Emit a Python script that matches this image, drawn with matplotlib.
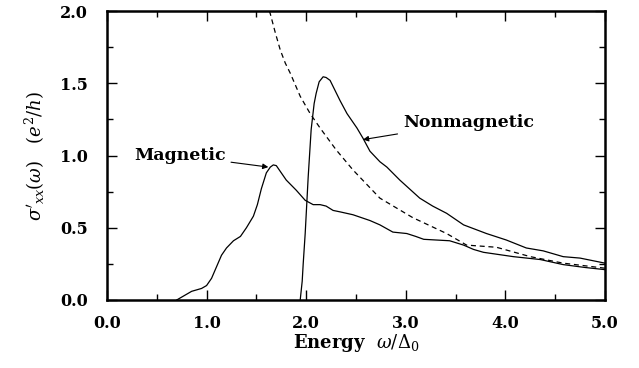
import numpy as np
import matplotlib.pyplot as plt
from matplotlib.ticker import MultipleLocator

plt.rcParams['font.family'] = ['DejaVu Serif']
plt.rcParams['mathtext.fontset'] = 'dejavuserif'

# Magnetic case (lower solid curve)
mag_x = [0.70, 0.75, 0.80, 0.85, 0.90, 0.95, 1.00, 1.05, 1.10, 1.15, 1.20, 1.27,
         1.34, 1.40, 1.47, 1.51, 1.55, 1.60, 1.64, 1.67, 1.70, 1.74, 1.80, 1.90,
         1.99, 2.07, 2.14, 2.20, 2.27, 2.34, 2.47, 2.64, 2.74, 2.87, 3.01, 3.10,
         3.18, 3.44, 3.58, 3.68, 3.78, 4.08, 4.35, 4.58, 4.80, 5.00]
mag_y = [0.00, 0.02, 0.04, 0.06, 0.07, 0.08, 0.10, 0.15, 0.23, 0.31, 0.36, 0.41,
         0.44, 0.50, 0.58, 0.66, 0.77, 0.88, 0.92, 0.935, 0.93, 0.89, 0.83, 0.76,
         0.69, 0.66, 0.66, 0.65, 0.62, 0.61, 0.59, 0.55, 0.52, 0.47, 0.46, 0.44,
         0.42, 0.41, 0.38, 0.35, 0.33, 0.30, 0.28, 0.245, 0.225, 0.21]

# Nonmagnetic case (upper solid curve)
nonmag_x = [1.94, 1.96, 1.97, 1.99, 2.02, 2.05, 2.08, 2.10, 2.13, 2.17, 2.20, 2.24,
            2.29, 2.34, 2.41, 2.51, 2.57, 2.64, 2.74, 2.81, 2.94, 3.14, 3.27, 3.41,
            3.58, 3.81, 4.01, 4.21, 4.38, 4.58, 4.75, 5.00]
nonmag_y = [0.00, 0.13, 0.25, 0.46, 0.85, 1.18, 1.36, 1.43, 1.51, 1.545, 1.54, 1.52,
            1.45, 1.38, 1.29, 1.19, 1.12, 1.03, 0.957, 0.92, 0.83, 0.705, 0.65, 0.60,
            0.52, 0.46, 0.415, 0.36, 0.34, 0.30, 0.29, 0.255]

# Reference (dashed curve)
ref_x = [1.63, 1.64, 1.69, 1.74, 1.79, 1.84, 1.89, 1.94, 2.04, 2.14, 2.30, 2.47,
         2.74, 3.07, 3.41, 3.61, 3.91, 4.25, 4.58, 5.00]
ref_y = [2.00, 1.98, 1.85, 1.73, 1.64, 1.57, 1.49, 1.41, 1.29, 1.19, 1.04, 0.90,
         0.705, 0.57, 0.46, 0.38, 0.365, 0.30, 0.255, 0.22]

fig = plt.figure(figsize=(6.39, 3.68), dpi=100)
ax = fig.add_axes([0.1674, 0.1848, 0.7794, 0.7852])

ax.plot(mag_x, mag_y, color='black', lw=0.9)
ax.plot(nonmag_x, nonmag_y, color='black', lw=0.9)
ax.plot(ref_x, ref_y, color='black', lw=0.9, dashes=(4, 3))

ax.set_xlim(0, 5)
ax.set_ylim(0, 2)
ax.xaxis.set_major_locator(MultipleLocator(1.0))
ax.xaxis.set_minor_locator(MultipleLocator(0.5))
ax.yaxis.set_major_locator(MultipleLocator(0.5))
ax.yaxis.set_minor_locator(MultipleLocator(0.25))
ax.xaxis.set_major_formatter(plt.FormatStrFormatter('%.1f'))
ax.yaxis.set_major_formatter(plt.FormatStrFormatter('%.1f'))
ax.tick_params(which='both', direction='in', top=True, right=True)
ax.tick_params(which='major', length=7, width=1.0, labelsize=11.5)
ax.tick_params(axis='y', which='major', pad=14)
ax.tick_params(axis='x', which='major', pad=11)
ax.tick_params(which='minor', length=4, width=1.0)
for lab in ax.get_xticklabels() + ax.get_yticklabels():
    lab.set_fontweight('bold')
for sp in ax.spines.values():
    sp.set_linewidth(1.8)

ax.set_xlabel(r"Energy  $\omega/\Delta_0$", fontsize=13, fontweight='bold', labelpad=0)
ax.set_ylabel(r"$\sigma'_{xx}(\omega)\quad(e^2/h)$", fontsize=13, labelpad=9)

ax.annotate("Magnetic", xy=(1.62, 0.92), xytext=(0.73, 1.0),
            fontsize=12.5, fontweight='bold', ha='center', va='center',
            arrowprops=dict(arrowstyle='-|>', color='black', lw=0.8,
                            mutation_scale=8, shrinkA=2, shrinkB=0))
ax.annotate("Nonmagnetic", xy=(2.57, 1.11), xytext=(3.63, 1.23),
            fontsize=12.5, fontweight='bold', ha='center', va='center',
            arrowprops=dict(arrowstyle='-|>', color='black', lw=0.8,
                            mutation_scale=8, shrinkA=2, shrinkB=0))

fig.savefig("out.png", dpi=100)
